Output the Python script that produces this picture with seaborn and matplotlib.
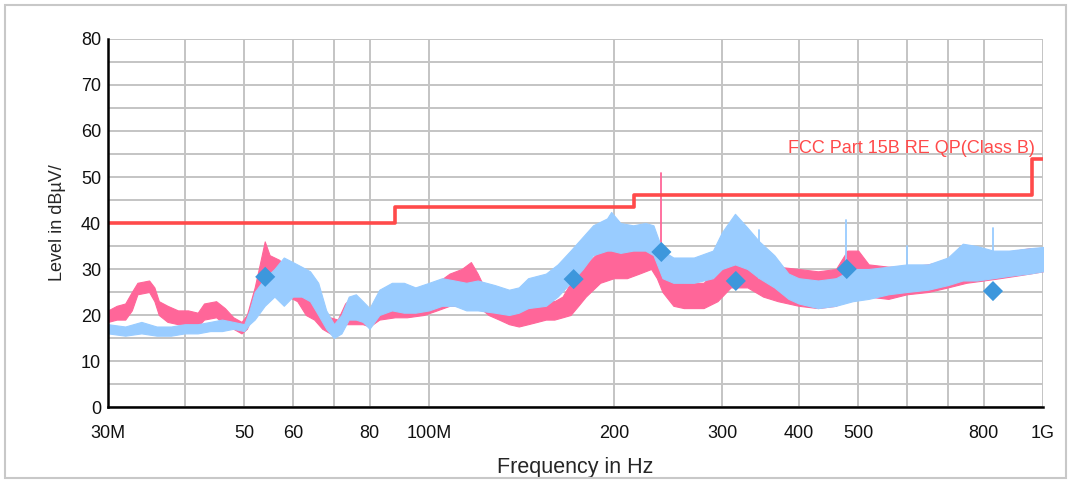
import numpy as np
import pandas as pd
import seaborn as sns
import matplotlib.pyplot as plt
from matplotlib.patches import Rectangle
from matplotlib.ticker import FixedLocator, FixedFormatter, NullLocator

# Pink trace envelope (MHz, low/high in dBuV)
pink_freq = [30, 31, 32, 32.8, 33.5, 35, 35.7, 36.3, 37.5, 39, 40.5, 42, 43, 45, 46.5, 48,
             49.5, 50.5, 52, 53, 54, 55, 57, 59, 61, 63, 65, 67, 69, 71, 73, 75, 78, 80,
             83, 88, 92, 98, 103, 108, 113, 117, 120, 125, 130, 135, 140, 145, 150, 155,
             160, 165, 170, 175, 180, 190, 200, 210, 220, 230, 235, 240, 250, 260, 280,
             295, 310, 330, 350, 370, 400, 430, 460, 480, 500, 520, 560, 600, 650, 700,
             750, 800, 850, 900, 950, 1000]
pink_lo = [18.5, 19, 19, 21, 24.5, 25, 23, 20, 18.5, 18, 18, 17.5, 19, 19.5, 18, 17,
           16, 17, 21, 24, 27, 27, 27, 24, 23, 20, 19, 17, 16, 16, 18, 18, 18, 17.5,
           19, 19.5, 19.5, 20, 21, 22, 22, 23, 22, 20, 19, 18, 17.5, 18, 18.5, 19,
           19, 19.5, 20, 22, 24, 27, 28, 28, 29, 30, 28, 25, 22, 21.5, 21.5,
           23, 26, 26, 24, 23, 22, 21.5, 22, 24, 24.5, 24, 23.5, 24.5, 25, 26,
           27, 27.5, 28, 28.5, 29, 29.5]
pink_hi = [21, 22, 22.5, 25, 27, 27.5, 26, 23, 22, 21, 21, 20.5, 22.5, 23, 21.5, 19.5,
           18.5, 20, 26, 31, 36, 33, 32, 30, 28, 26, 24, 21, 19.5, 19, 22.5, 24, 22, 21,
           23, 23, 23.5, 24, 27, 29, 30, 31.5, 29, 24, 23, 22, 21, 22.5, 23, 23.5,
           23, 24, 27, 29, 31, 34, 34.5, 35, 35, 36, 35, 32, 28, 27, 27,
           30, 33.5, 33, 30, 30.5, 30, 29.5, 30, 34, 34, 31, 30.5, 30.5, 31, 32,
           33, 33, 33.5, 34, 34.5, 34.5]

# Light blue trace envelope
blue_freq = [30, 32, 34, 36, 38, 40, 42, 44, 46, 48, 50, 51, 52, 54, 56, 58, 60, 62, 64,
             66, 68, 70, 72, 74, 76, 78, 80, 83, 87, 91, 95, 100, 105, 110, 115, 120,
             128, 135, 140, 145, 155, 162, 170, 178, 185, 195, 198, 205, 215, 225, 232,
             240, 250, 270, 290, 300, 315, 330, 345, 365, 385, 400, 430, 460, 490, 520,
             560, 600, 650, 700, 740, 780, 830, 880, 950, 1000]
blue_lo = [16, 15.5, 16, 15.5, 15.5, 16, 16, 16.5, 16.5, 17, 16.5, 18, 19, 22, 24, 22, 24,
           24, 23, 20, 17, 15, 16, 19, 19, 18.5, 17, 20, 21, 20.5, 20.5, 21, 22, 22, 21,
           21, 20.5, 20, 20.5, 21.5, 22, 24, 27, 30, 33, 34, 34, 33.5, 34, 34, 33,
           28, 27, 27, 28, 30, 31, 30, 28, 26, 23.5, 22.5, 21.5, 22, 23, 23.5,
           24.5, 25, 25.5, 26.5, 27.5, 27.5, 28, 28.5, 29, 29.5]
blue_hi = [18, 17.5, 18.5, 17.5, 17.5, 18, 18, 18.5, 19, 18.5, 18, 21, 25, 28, 30, 32.5,
           31.5, 30.5, 29.5, 27, 21, 18, 20, 24, 24.5, 23, 21.5, 25.5, 27, 27, 26, 27,
           28, 27.5, 27, 27.5, 26.5, 25.5, 26, 28, 29, 31, 34, 37, 39.5, 41, 42.4, 40,
           39.5, 40, 39.5, 34, 32.5, 32.5, 34, 38, 42, 39, 36, 33, 29, 28, 27.5, 28,
           30, 30, 30.5, 31, 31, 32.5, 35.5, 35, 34, 34, 34.5, 34.8]

# Narrow spikes
pink_spike_freq = [239]
pink_spike_top = [50.8]
blue_spike_freq = [345, 478, 600, 830]
blue_spike_top = [38.5, 40.6, 35, 38.9]

# Final measurement points
peak_freq = [54.1, 172, 239, 316, 479, 829]
peak_level = [28.3, 27.8, 33.7, 27.4, 30, 25.2]

# Limit line
limit_freq = [30, 88, 216, 960, 1000]
limit_level = [40, 43.5, 46, 54, 54]
limit_name = "FCC Part 15B RE QP(Class B)"

x_ticks = [30, 40, 50, 60, 70, 80, 100, 200, 300, 400, 500, 600, 700, 800, 1000]
x_labels = ["30M", "", "50", "60", "", "80", "100M", "200", "300", "400", "500", "", "", "800", "1G"]

PINK = "#ff6699"
BLUE = "#99ccff"
RED = "#ff4a4a"
MARK = "#3d97dc"

sns.set_style("white")
plt.rcParams['font.family'] = ['Liberation Sans', 'DejaVu Sans']

fig = plt.figure(figsize=(10.71, 4.83), dpi=100)
ax = fig.add_axes([108 / 1071, 1 - 407 / 483, 935 / 1071, 368 / 483])
ax.set_xscale("log")

ax.fill_between(pink_freq, pink_lo, pink_hi, color=PINK, lw=0.8, edgecolor=PINK, zorder=3)
for f, t in zip(pink_spike_freq, pink_spike_top):
    ax.plot([f, f], [30, t], color=PINK, lw=1.3, zorder=3)
ax.fill_between(blue_freq, blue_lo, blue_hi, color=BLUE, lw=0.8, edgecolor=BLUE, zorder=4)
for f, t in zip(blue_spike_freq, blue_spike_top):
    ax.plot([f, f], [28, t], color=BLUE, lw=1.3, zorder=4)

lim = pd.DataFrame({"freq": limit_freq, "level": limit_level})
sns.lineplot(data=lim, x="freq", y="level", drawstyle="steps-post", color=RED,
             lw=2.6, ax=ax, zorder=5)

peaks = pd.DataFrame({"freq": peak_freq, "level": peak_level})
sns.scatterplot(data=peaks, x="freq", y="level", marker="D", s=105, color=MARK,
                edgecolor="none", ax=ax, zorder=6)

ax.text(0.991, 0.702, limit_name, transform=ax.transAxes, ha="right", va="center",
        color=RED, fontsize=13)

ax.set_xlim(30, 1000)
ax.set_ylim(0, 80)
ax.xaxis.set_major_locator(FixedLocator(x_ticks))
ax.xaxis.set_major_formatter(FixedFormatter(x_labels))
ax.xaxis.set_minor_locator(NullLocator())
ax.set_yticks(range(0, 81, 10))
ax.set_yticks(range(5, 80, 10), minor=True)

ax.grid(True, which="both", color="#c4c4c4", lw=1.4, zorder=0)
ax.set_axisbelow(True)
for s in ["top", "right"]:
    ax.spines[s].set_visible(False)
for s in ["left", "bottom"]:
    ax.spines[s].set_color("black")
    ax.spines[s].set_linewidth(1.8)
    ax.spines[s].set_zorder(7)

ax.tick_params(axis="both", which="both", direction="inout", length=8, width=1.2,
               color="black", labelsize=13, labelcolor="#111111")
ax.tick_params(axis="x", pad=9)
ax.tick_params(axis="y", pad=1)

ax.set_xlabel("Frequency in Hz", fontsize=15.5, labelpad=11)
ax.set_ylabel("Level in dBµV/", fontsize=13, labelpad=11)

fig.patches.append(Rectangle((5 / 1071, 5 / 483), 1061 / 1071, 473 / 483,
                             transform=fig.transFigure, fill=False,
                             edgecolor="#c8c8c8", lw=1.5))

fig.savefig("out.png", dpi=100)
